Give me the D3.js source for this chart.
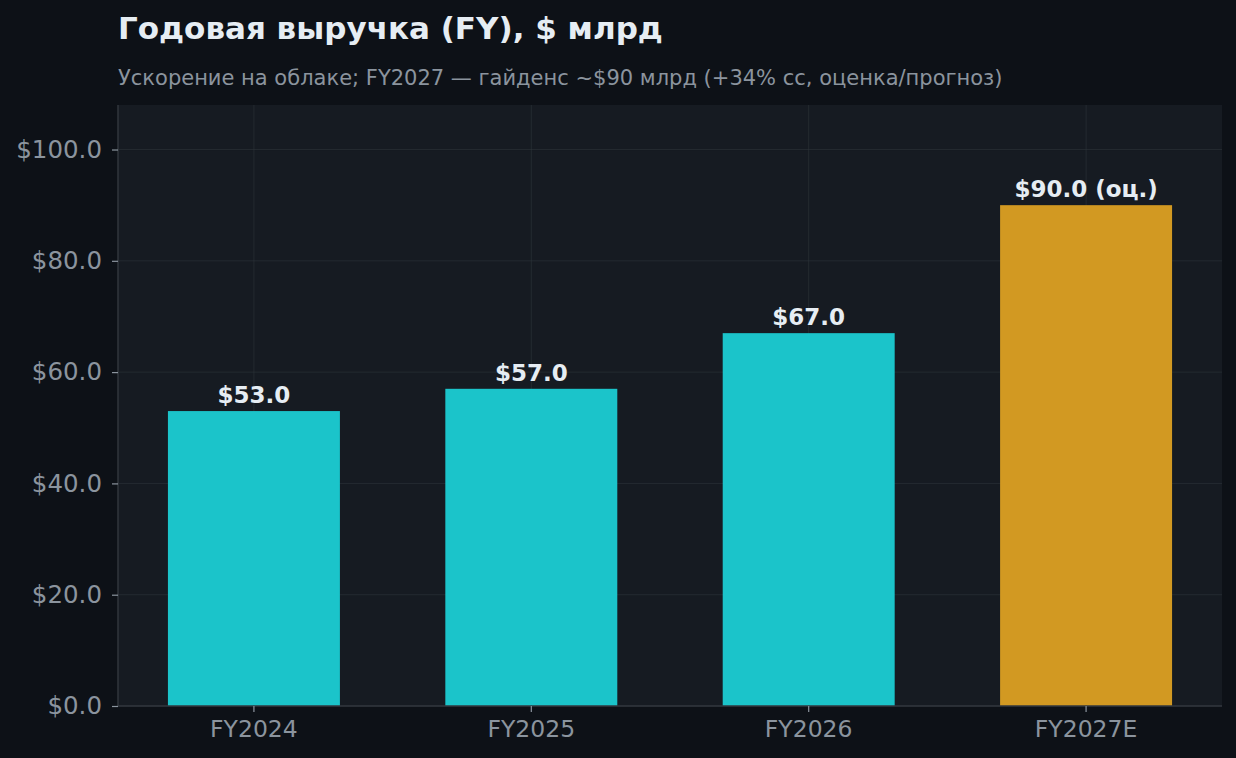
<!DOCTYPE html>
<html>
<head>
<meta charset="utf-8">
<script src="https://cdn.jsdelivr.net/npm/d3@7"></script>
<style>
  html, body { margin: 0; padding: 0; background: #0d1117; }
  svg { display: block; font-family: "DejaVu Sans", sans-serif; }
</style>
</head>
<body>
<div id="chart"></div>
<script>
// chart data
const years = ["FY2024", "FY2025", "FY2026", "FY2027E"];
const revenue = [53.0, 57.0, 67.0, 90.0];
const isEstimate = [false, false, false, true];
const yTicks = [0, 20, 40, 60, 80, 100];

const title = "Годовая выручка (FY), $ млрд";
const subtitle = "Ускорение на облаке; FY2027 — гайденс ~$90 млрд (+34% сс, оценка/прогноз)";

const W = 1236, H = 758;
const margin = { top: 105, right: 14, bottom: 52, left: 118 };
const width = W - margin.left - margin.right,
  height = H - margin.top - margin.bottom;

const svg = d3.select("#chart")
  .append("svg")
  .attr("width", W)
  .attr("height", H);

svg.append("rect")
  .attr("width", W).attr("height", H)
  .attr("fill", "#0d1117");

// titles
svg.append("text")
  .attr("x", margin.left).attr("y", 39)
  .attr("fill", "#e6edf3")
  .attr("font-size", "31px")
  .attr("font-weight", "bold")
  .text(title);

svg.append("text")
  .attr("x", margin.left).attr("y", 85)
  .attr("fill", "#8b949e")
  .attr("font-size", "21px")
  .text(subtitle);

const g = svg.append("g")
  .attr("transform", `translate(${margin.left}, ${margin.top})`);

g.append("rect")
  .attr("width", width).attr("height", height)
  .attr("fill", "#161b22");

// scales
const x = d3.scaleBand()
  .domain(years)
  .range([0, width])
  .paddingInner(0.38)
  .paddingOuter(0.18);

const y = d3.scaleLinear().domain([0, 108]).range([height, 0]);

// grid
g.append("g")
  .selectAll("line.hgrid")
  .data(yTicks)
  .join("line")
  .attr("x1", 0).attr("x2", width)
  .attr("y1", (d) => y(d)).attr("y2", (d) => y(d))
  .attr("stroke", "#30363d")
  .attr("stroke-opacity", 0.55)
  .attr("stroke-width", 1);

g.append("g")
  .selectAll("line.vgrid")
  .data(years)
  .join("line")
  .attr("x1", (d) => x(d) + x.bandwidth() / 2)
  .attr("x2", (d) => x(d) + x.bandwidth() / 2)
  .attr("y1", 0).attr("y2", height)
  .attr("stroke", "#30363d")
  .attr("stroke-opacity", 0.55)
  .attr("stroke-width", 1);

// bars
g.append("g")
  .selectAll("rect")
  .data(years)
  .join("rect")
  .attr("x", (d) => x(d))
  .attr("width", x.bandwidth())
  .attr("y", (d, i) => y(revenue[i]))
  .attr("height", (d, i) => height - y(revenue[i]))
  .attr("fill", (d, i) => isEstimate[i] ? "#d29922" : "#1bc4ca");

// value labels
g.append("g")
  .selectAll("text")
  .data(years)
  .join("text")
  .attr("x", (d) => x(d) + x.bandwidth() / 2)
  .attr("y", (d, i) => y(revenue[i]) - 8)
  .attr("text-anchor", "middle")
  .attr("fill", "#e6edf3")
  .attr("font-size", "23px")
  .attr("font-weight", "bold")
  .text((d, i) => "$" + revenue[i].toFixed(1) + (isEstimate[i] ? " (оц.)" : ""));

// axes
const yAxis = d3.axisLeft(y)
  .tickValues(yTicks)
  .tickFormat((d) => "$" + d.toFixed(1))
  .tickSize(6)
  .tickPadding(10);

const xAxis = d3.axisBottom(x)
  .tickSize(6)
  .tickPadding(8);

const gy = g.append("g").call(yAxis);
const gx = g.append("g").attr("transform", `translate(0, ${height})`).call(xAxis);

[gx, gy].forEach((ax) => {
  ax.select(".domain").attr("stroke", "#30363d").attr("stroke-width", 1.5);
  ax.selectAll(".tick line").attr("stroke", "#8b949e").attr("stroke-width", 1.2);
  ax.selectAll(".tick text")
    .attr("fill", "#8b949e")
    .attr("font-family", "DejaVu Sans");
});
gy.selectAll(".tick text").attr("font-size", "24.5px");
gx.selectAll(".tick text").attr("font-size", "23.5px");
gy.select(".domain").attr("d", `M0,${height}V0`);
gx.select(".domain").attr("d", `M0,0H${width}`);
</script>
</body>
</html>
